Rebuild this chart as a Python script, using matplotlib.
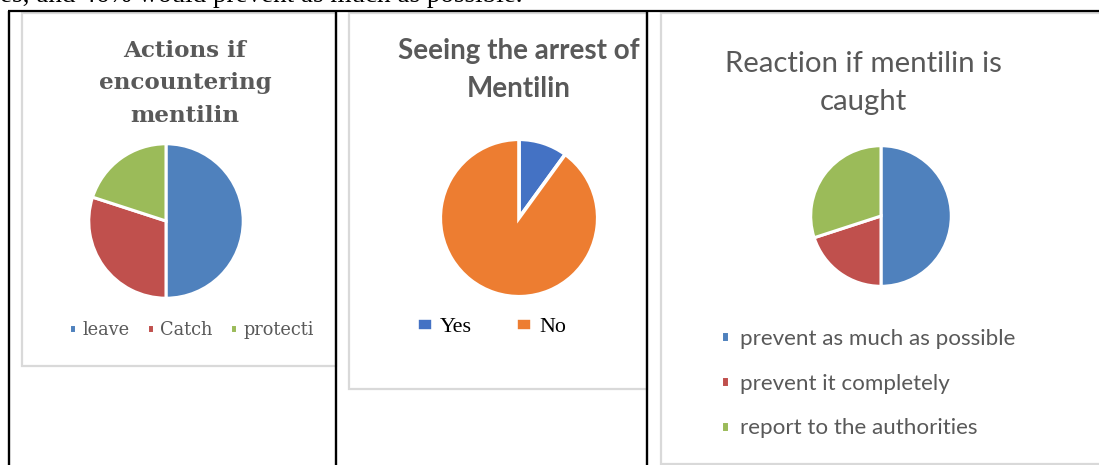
#!/usr/bin/env python3
"""Three survey pie charts laid out in a document table row."""

import matplotlib

matplotlib.use("Agg")
import matplotlib.pyplot as plt
from matplotlib.patches import Rectangle

W, H = 1099, 465
DPI = 100

# survey answers (percent)
actions_title = ["Actions if", "encountering", "mentilin"]
actions_labels = ["leave", "Catch", "protecti"]
actions_values = [50, 30, 20]

arrest_title = ["Seeing the arrest of", "Mentilin"]
arrest_labels = ["Yes", "No"]
arrest_values = [10, 90]

reaction_title = ["Reaction if mentilin is", "caught"]
reaction_labels = ["prevent as much as possible", "prevent it completely", "report to the authorities"]
reaction_values = [50, 20, 30]

body_line = "es, and 46% would prevent as much as possible."

OFFICE07 = ["#4F81BD", "#C0504D", "#9BBB59"]
OFFICE13 = ["#4472C4", "#ED7D31"]
TITLE_GREY = "#595959"


def fx(x):
    return x / W


def fy(y):
    return 1 - y / H


def pie_at(fig, cx, cy, r, values, colors, lw):
    ax = fig.add_axes([fx(cx - r), fy(cy + r), 2 * r / W, 2 * r / H])
    wedges, _ = ax.pie(values, colors=colors, startangle=90, counterclock=False,
                       radius=1, wedgeprops={"edgecolor": "white", "linewidth": lw})
    ax.set_xlim(-1.01, 1.01)
    ax.set_ylim(-1.01, 1.01)
    ax.set_aspect("equal")
    ax.axis("off")
    return wedges


fig = plt.figure(figsize=(W / DPI, H / DPI), dpi=DPI)
fig.patch.set_facecolor("white")

# page layer in pixel coordinates (y grows downward)
bg = fig.add_axes([0, 0, 1, 1])
bg.set_xlim(0, W)
bg.set_ylim(H, 0)
bg.axis("off")

# sentence above the table, mostly scrolled out of view
bg.text(0, 2.0, body_line, family="Liberation Serif", fontsize=19.5, color="black",
        ha="left", va="baseline")

# chart area frames (right edges sit under the cell borders)
for x0, x1, y1 in [(22, 336, 366), (349, 647, 389), (661, 1110, 464)]:
    bg.add_patch(Rectangle((x0, 13), x1 - x0, y1 - 13, facecolor="white",
                           edgecolor="#D9D9D9", linewidth=1.6, zorder=1))

# table borders
bg.plot([8, W], [11.5, 11.5], color="black", lw=1.6, zorder=5, solid_capstyle="butt")
for x in [9, 336, 647]:
    bg.plot([x, x], [11, H], color="black", lw=1.7, zorder=5, solid_capstyle="butt")

# chart 1 - bold serif title, horizontal legend
for line, base in zip(actions_title, [57, 89.5, 122]):
    bg.text(185, base, line, family="DejaVu Serif", fontweight="bold", fontsize=16.6,
            color=TITLE_GREY, ha="center", va="baseline", zorder=3)
w1 = pie_at(fig, 166, 221, 78, actions_values, OFFICE07, 2.2)
fig.legend(w1, actions_labels, loc="upper left", bbox_to_anchor=(fx(69), fy(321)),
           ncol=3, frameon=False, borderpad=0, borderaxespad=0,
           handlelength=0.42, handleheight=0.42, handletextpad=0.35, columnspacing=0.95,
           prop={"family": "DejaVu Serif", "size": 12.8}, labelcolor=TITLE_GREY)

# chart 2 - bold sans title, Times legend
for line, base in zip(arrest_title, [59, 97]):
    bg.text(519, base, line, family="Lato", fontweight="bold", fontsize=20,
            color=TITLE_GREY, ha="center", va="baseline", zorder=3)
w2 = pie_at(fig, 519, 218, 79.5, arrest_values, OFFICE13, 2.6)
fig.legend(w2, arrest_labels, loc="upper left", bbox_to_anchor=(fx(417), fy(318)),
           ncol=2, frameon=False, borderpad=0, borderaxespad=0,
           handlelength=0.75, handleheight=0.5, handletextpad=0.3, columnspacing=2.0,
           prop={"family": "Liberation Serif", "size": 15.8}, labelcolor="black")

# chart 3 - light sans title, stacked legend
for line, base in zip(reaction_title, [72, 110]):
    bg.text(863, base, line, family="Lato", fontsize=21.2,
            color=TITLE_GREY, ha="center", va="baseline", zorder=3)
w3 = pie_at(fig, 881, 216, 71, reaction_values, OFFICE07, 2.2)
fig.legend(w3, reaction_labels, loc="upper left", bbox_to_anchor=(fx(721), fy(329)),
           ncol=1, frameon=False, borderpad=0, borderaxespad=0,
           handlelength=0.38, handleheight=0.38, handletextpad=0.45, labelspacing=1.1,
           prop={"family": "Lato", "size": 16.1}, labelcolor=TITLE_GREY)

fig.savefig("out.png", dpi=DPI)
